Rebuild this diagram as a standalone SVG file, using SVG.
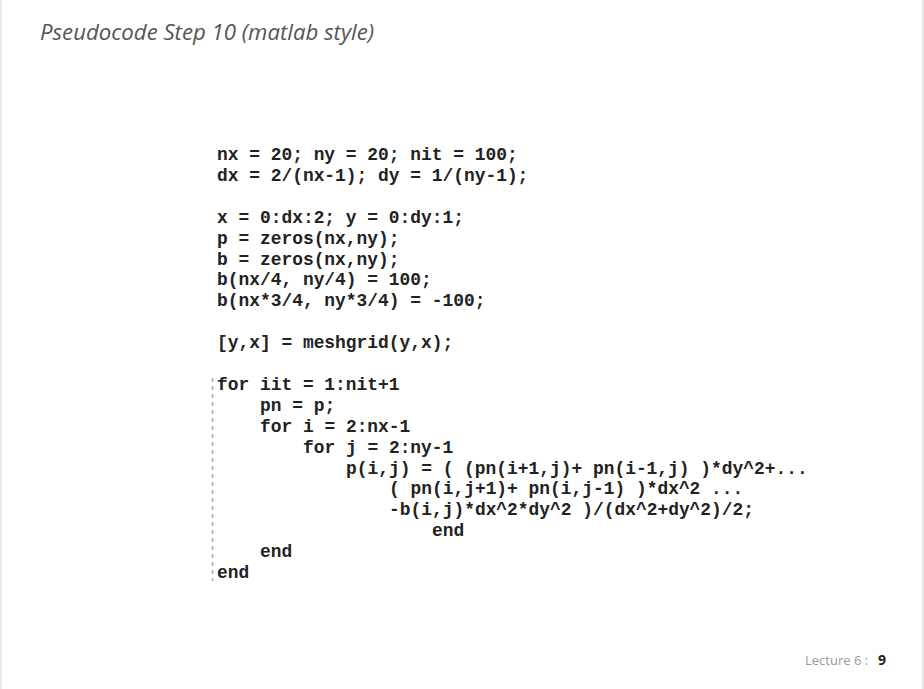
<svg xmlns="http://www.w3.org/2000/svg" width="924" height="689" viewBox="0 0 924 689">
<style>
.code{font-family:"Liberation Mono","Courier New",monospace;font-weight:bold;font-size:17.9px;fill:#222;white-space:pre}
.title{font-family:"Open Sans","Noto Sans",sans-serif;font-style:italic;font-size:22.2px;fill:#555}
.foot{font-family:"Open Sans","Noto Sans",sans-serif;font-size:13px;fill:#9a9a9a}
</style>
<rect width="924" height="689" fill="#ffffff"/>
<rect x="0" y="0" width="1.5" height="689" fill="#e6e6e6"/>
<rect x="922" y="0" width="2" height="689" fill="#e6e6e6"/>
<text class="title" x="40" y="40">Pseudocode Step 10 (matlab style)</text>
<g id="code">
<text class="code" x="217" y="160">nx = 20; ny = 20; nit = 100;</text>
<text class="code" x="217" y="181">dx = 2/(nx-1); dy = 1/(ny-1);</text>
<text class="code" x="217" y="222.7">x = 0:dx:2; y = 0:dy:1;</text>
<text class="code" x="217" y="243.6">p = zeros(nx,ny);</text>
<text class="code" x="217" y="264.5">b = zeros(nx,ny);</text>
<text class="code" x="217" y="285.4">b(nx/4, ny/4) = 100;</text>
<text class="code" x="217" y="306.3">b(nx*3/4, ny*3/4) = -100;</text>
<text class="code" x="217" y="348.1">[y,x] = meshgrid(y,x);</text>
<text class="code" x="217" y="389.9">for iit = 1:nit+1</text>
<text class="code" x="260" y="410.8">pn = p;</text>
<text class="code" x="260" y="431.7">for i = 2:nx-1</text>
<text class="code" x="303" y="452.6">for j = 2:ny-1</text>
<text class="code" x="346" y="473.5">p(i,j) = ( (pn(i+1,j)+ pn(i-1,j) )*dy^2+...</text>
<text class="code" x="389" y="494.4">( pn(i,j+1)+ pn(i,j-1) )*dx^2 ...</text>
<text class="code" x="389" y="515.3">-b(i,j)*dx^2*dy^2 )/(dx^2+dy^2)/2;</text>
<text class="code" x="432" y="536.2">end</text>
<text class="code" x="260" y="557.1">end</text>
<text class="code" x="217" y="578">end</text>
</g>
<line x1="212.5" y1="378" x2="212.5" y2="581" stroke="#a8a8c6" stroke-width="1.5" stroke-dasharray="4 4"/>
<text class="foot" x="805" y="665">Lecture 6 :</text>
<text x="878" y="665" font-family="'Open Sans','Noto Sans',sans-serif" font-weight="bold" font-size="14" fill="#222">9</text>
</svg>
